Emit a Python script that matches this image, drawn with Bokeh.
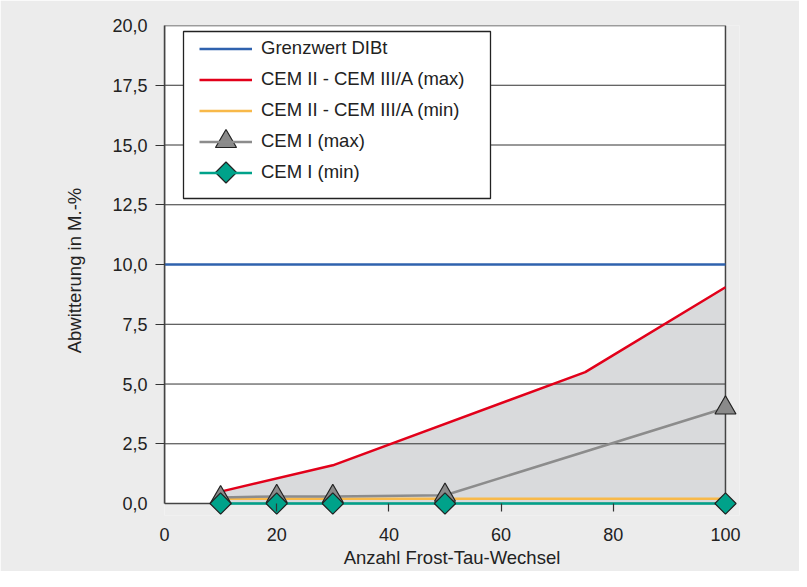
from bokeh.plotting import figure
from bokeh.models import (Range1d, FixedTicker, CustomJSTickFormatter, Legend,
                          LegendItem, BoxAnnotation, PolyAnnotation)
from bokeh.embed import file_html
from bokeh.resources import INLINE
import math

# ---------------- data ----------------
series_names = [
    "Grenzwert DIBt",
    "CEM II - CEM III/A (max)",
    "CEM II - CEM III/A (min)",
    "CEM I (max)",
    "CEM I (min)",
]
limit_x = [0, 100]
limit_y = [10.0, 10.0]
cem2_max_x = [10, 30, 75, 100]
cem2_max_y = [0.5, 1.6, 5.5, 9.05]
cem2_min_x = [10, 100]
cem2_min_y = [0.2, 0.2]
cem1_max_x = [10, 20, 30, 50, 100]
cem1_max_y = [0.25, 0.3, 0.3, 0.35, 4.0]
cem1_min_x = [10, 20, 30, 50, 100]
cem1_min_y = [0.0, 0.0, 0.0, 0.0, 0.0]
x_ticks = [0, 20, 40, 60, 80, 100]
y_ticks = [0, 2.5, 5, 7.5, 10, 12.5, 15, 17.5, 20]
y_tick_labels = ["0,0", "2,5", "5,0", "7,5", "10,0", "12,5", "15,0", "17,5", "20,0"]
x_label = "Anzahl Frost-Tau-Wechsel"
y_label = "Abwitterung in M.-%"

# ---------------- style ----------------
FONT = "Liberation Sans"
FS_TICK = "18px"
FS = "18.5px"
TXT = "#222222"
BG = "#ececec"
C_BLUE = "#2f62ae"
C_RED = "#e2001a"
C_ORANGE = "#f8b94a"
C_GREY = "#8c8c8c"
C_TRI = "#8a8a8a"
C_TEAL = "#00a28a"
C_FILL = "#d9dadc"
C_FRAME = "#444444"
C_EDGE = "#222222"

x0, x1 = x_ticks[0], x_ticks[-1]
y0, y1 = y_ticks[0], y_ticks[-1]

# the frame is a little larger than the data area so that markers on the
# border are not clipped; the white data area is drawn explicitly
p = figure(width=799, height=571, output_backend="svg", toolbar_location=None,
           x_range=Range1d(x0, x1 + 2.5), y_range=Range1d(y0 - 0.5, y1),
           min_border_left=164, min_border_right=60,
           min_border_top=25, min_border_bottom=56)
p.border_fill_color = BG
p.background_fill_color = BG
p.outline_line_color = None
p.xgrid.grid_line_color = None
p.ygrid.grid_line_color = None

# axes
for ax in (p.xaxis[0], p.yaxis[0]):
    ax.major_tick_line_color = None
    ax.minor_tick_line_color = "#333333"
    ax.minor_tick_line_width = 1.2
    ax.major_tick_in = 0
    ax.major_label_text_font = FONT
    ax.major_label_text_font_size = FS_TICK
    ax.major_label_text_color = TXT
    ax.axis_label_text_font = FONT
    ax.axis_label_text_font_size = FS
    ax.axis_label_text_font_style = "normal"
    ax.axis_label_text_color = TXT

p.xaxis.ticker = FixedTicker(ticks=x_ticks, minor_ticks=x_ticks[1:-1])
p.xaxis.axis_line_color = None
p.xaxis.bounds = (x0, x1)
p.xaxis.major_tick_out = -4
p.xaxis.minor_tick_out = -4
p.xaxis.minor_tick_in = 12
p.xaxis.major_label_standoff = 16
p.xaxis.axis_label = x_label
p.xaxis.axis_label_standoff = 3

p.yaxis.ticker = FixedTicker(ticks=y_ticks, minor_ticks=y_ticks[1:-1])
p.yaxis.formatter = CustomJSTickFormatter(
    args=dict(tvals=y_ticks, tlabels=y_tick_labels),
    code="const i = tvals.findIndex(t => Math.abs(t - tick) < 1e-9); return i >= 0 ? tlabels[i] : '';")
p.yaxis.bounds = (y0, y1)
p.yaxis.axis_line_color = C_FRAME
p.yaxis.axis_line_width = 1.5
p.yaxis.major_tick_out = 9
p.yaxis.minor_tick_out = 9
p.yaxis.minor_tick_in = 0
p.yaxis.major_label_standoff = 8
p.yaxis.axis_label = y_label
p.yaxis.axis_label_standoff = 24

# white plot area + shaded band
p.quad(left=[x0], right=[x1], bottom=[y0], top=[y1],
       fill_color="white", line_color=None, level="image")
p.varea(x=cem2_max_x, y1=[0] * len(cem2_max_x), y2=cem2_max_y,
        fill_color=C_FILL, level="image")

# horizontal grid lines and frame
grid_vals = y_ticks[1:-1]
p.segment(x0=[x0] * len(grid_vals), x1=[x1] * len(grid_vals),
          y0=grid_vals, y1=grid_vals, line_color="#333333", line_width=1,
          level="underlay")
p.quad(left=[x0], right=[x1], bottom=[y0], top=[y1],
       fill_alpha=0, line_color=C_FRAME, line_width=1.5, level="underlay")

r_blue = p.line(limit_x, limit_y, line_color=C_BLUE, line_width=2.5)
r_red = p.line(cem2_max_x, cem2_max_y, line_color=C_RED, line_width=2.5)
r_orange = p.line(cem2_min_x, cem2_min_y, line_color=C_ORANGE, line_width=2.5)
r_teal = p.line(cem1_min_x, cem1_min_y, line_color=C_TEAL, line_width=2.5)
r_grey = p.line(cem1_max_x, cem1_max_y, line_color=C_GREY, line_width=2.5)
r_tri = p.scatter(cem1_max_x, cem1_max_y, marker="triangle", size=21,
                  fill_color=C_TRI, line_color=C_EDGE, line_width=1.2)
r_dia = p.scatter(cem1_min_x, cem1_min_y, marker="square", size=15,
                  angle=math.pi / 4, fill_color=C_TEAL,
                  line_color=C_EDGE, line_width=1.2)

# ---------------- legend ----------------
# (screen units: x from the frame's left edge, y up from the frame's bottom)
LEG_X, LEG_Y = 35, 329.5          # bottom-left of the legend items
GLYPH_W, ITEM_H, ITEM_GAP = 53, 27, 4
n_items = len(series_names)

box = BoxAnnotation(left=19, right=326, top=484, bottom=317,
                    left_units="screen", right_units="screen",
                    top_units="screen", bottom_units="screen",
                    fill_color="white", fill_alpha=1.0,
                    line_color=C_EDGE, line_width=1.3, line_alpha=1.0)
p.add_layout(box)

legend = Legend(items=[
    LegendItem(label=series_names[0], renderers=[r_blue]),
    LegendItem(label=series_names[1], renderers=[r_red]),
    LegendItem(label=series_names[2], renderers=[r_orange]),
    LegendItem(label=series_names[3], renderers=[r_grey]),
    LegendItem(label=series_names[4], renderers=[r_teal]),
], location=(LEG_X, LEG_Y), padding=0, margin=0, spacing=ITEM_GAP,
    glyph_width=GLYPH_W, glyph_height=ITEM_H, label_height=ITEM_H,
    label_standoff=9, border_line_alpha=0, background_fill_alpha=0,
    label_text_font=FONT, label_text_font_size=FS, label_text_color=TXT)
p.add_layout(legend)


def item_center(i):
    """centre of legend glyph i in screen units"""
    cx = LEG_X + GLYPH_W / 2
    cy = LEG_Y + (n_items - 1 - i) * (ITEM_H + ITEM_GAP) + ITEM_H / 2
    return cx, cy


# large legend markers (Bokeh scales legend markers down)
cx, cy = item_center(3)
tri = PolyAnnotation(xs=[cx - 10.5, cx + 10.5, cx], ys=[cy - 6, cy - 6, cy + 12],
                     xs_units="screen", ys_units="screen",
                     fill_color=C_TRI, fill_alpha=1.0,
                     line_color=C_EDGE, line_width=1.2, line_alpha=1.0)
cx, cy = item_center(4)
dia = PolyAnnotation(xs=[cx, cx + 10.5, cx, cx - 10.5], ys=[cy + 10.5, cy, cy - 10.5, cy],
                     xs_units="screen", ys_units="screen",
                     fill_color=C_TEAL, fill_alpha=1.0,
                     line_color=C_EDGE, line_width=1.2, line_alpha=1.0)
p.add_layout(tri)
p.add_layout(dia)

open("out.html", "w").write(file_html(p, INLINE))
